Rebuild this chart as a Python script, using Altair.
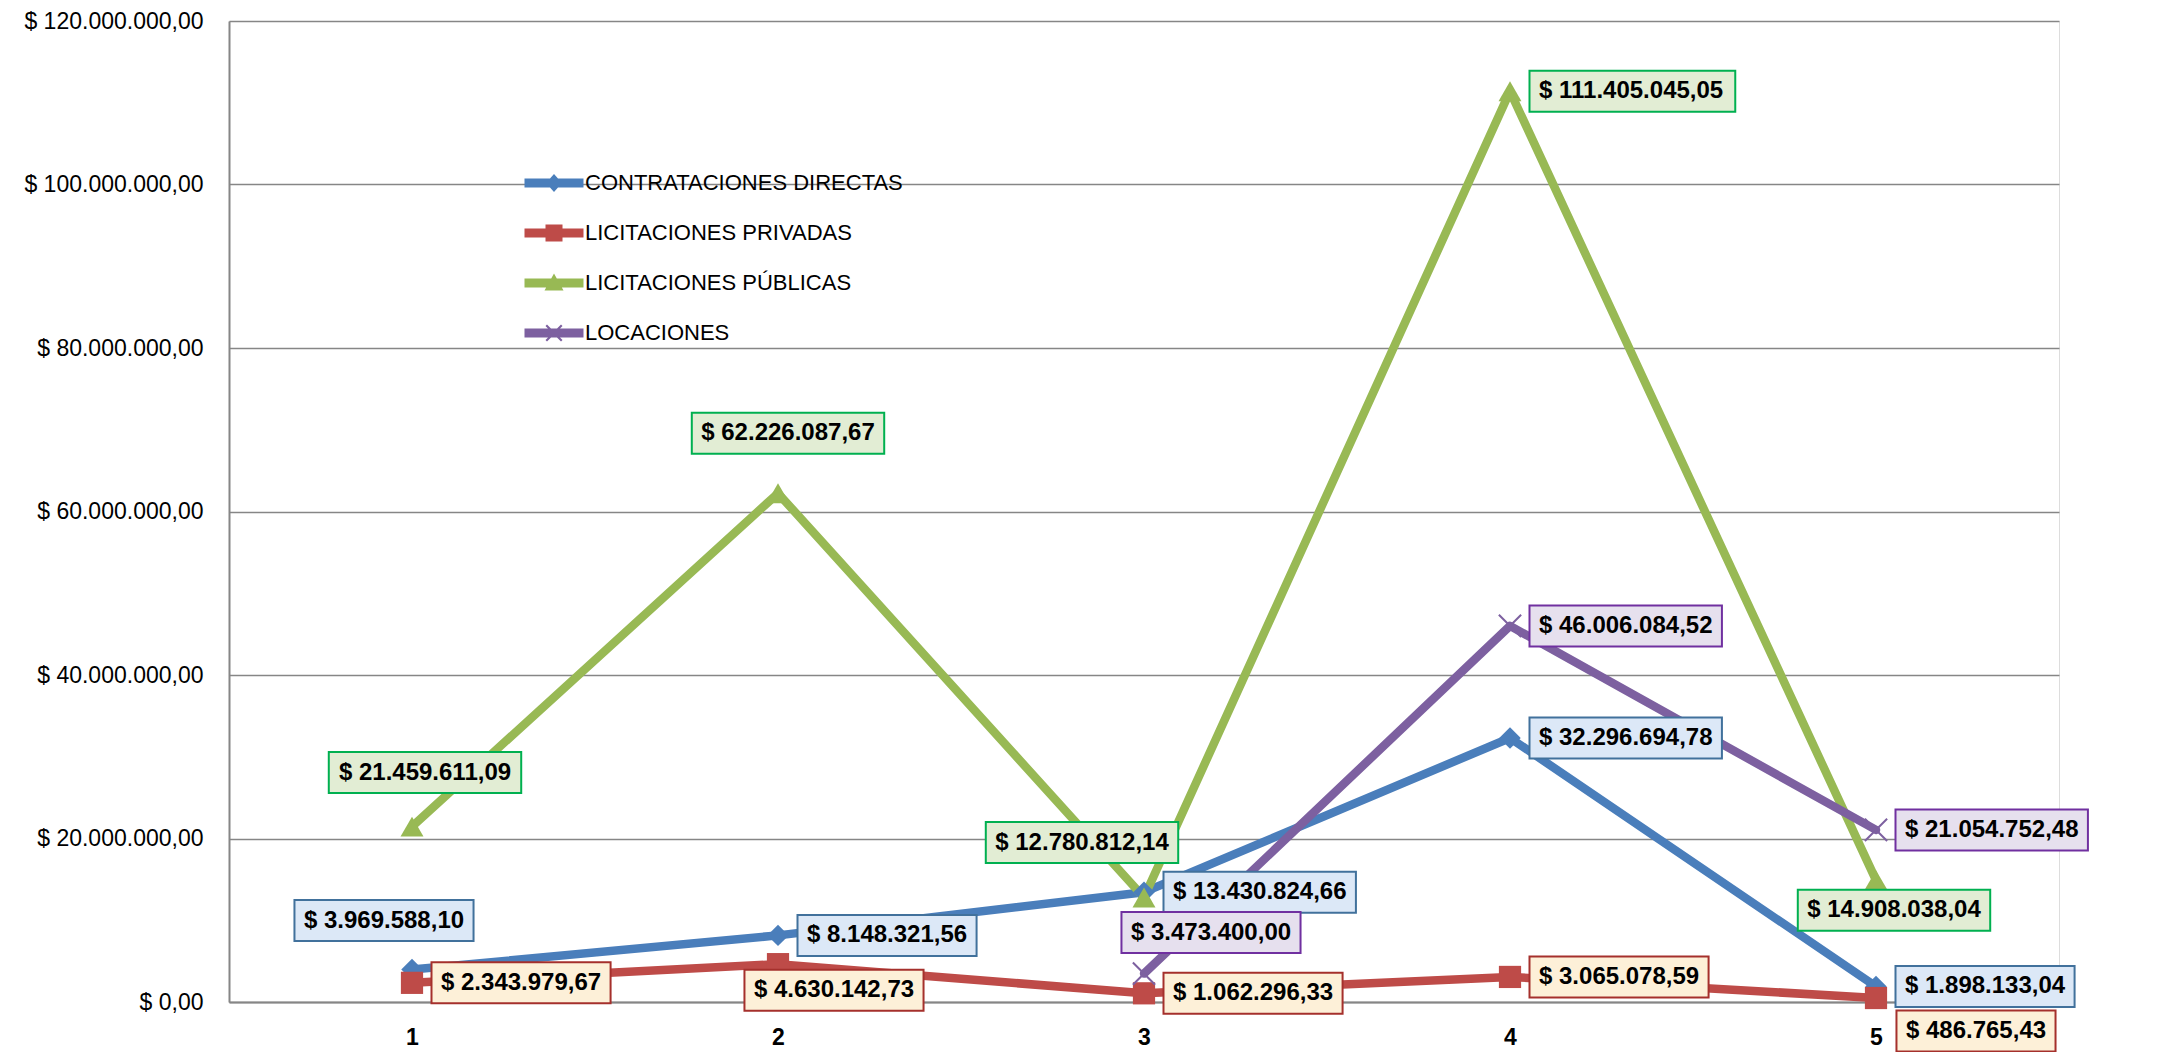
import altair as alt
import pandas as pd

# ---------------- data ----------------
categories = [1, 2, 3, 4, 5]
series_names = ["CONTRATACIONES DIRECTAS", "LICITACIONES PRIVADAS",
                "LICITACIONES PÚBLICAS", "LOCACIONES"]
contrataciones_directas = [3969588.10, 8148321.56, 13430824.66, 32296694.78, 1898133.04]
licitaciones_privadas = [2343979.67, 4630142.73, 1062296.33, 3065078.59, 486765.43]
licitaciones_publicas = [21459611.09, 62226087.67, 12780812.14, 111405045.05, 14908038.04]
locaciones = [None, None, 3473400.00, 46006084.52, 21054752.48]
y_ticks = [0, 20000000, 40000000, 60000000, 80000000, 100000000, 120000000]

series_values = [contrataciones_directas, licitaciones_privadas,
                 licitaciones_publicas, locaciones]

# ---------------- styles ----------------
line_colors = ["#4A7EBB", "#BE4B48", "#98B954", "#7D60A0"]
box_fills = ["#DCE8F7", "#FDF0D8", "#E2EDD4", "#E6E0EE"]
box_strokes = ["#41719C", "#A5302C", "#00B050", "#7030A0"]
marker_shapes = ["diamond", "square", "triangle-up",
                 "M-1,-0.88L-0.88,-1L1,0.88L0.88,1Z M-1,0.88L0.88,-1L1,-0.88L-0.88,1Z"]
marker_sizes = [460, 560, 700, 625]
legend_bar = "M-2.95,-0.45L2.95,-0.45L2.95,0.45L-2.95,0.45Z "
legend_shapes = [
    legend_bar + "M0,-0.9L0.8,0L0,0.9L-0.8,0Z",
    legend_bar + "M-0.85,-0.85L0.85,-0.85L0.85,0.85L-0.85,0.85Z",
    legend_bar + "M0,-0.95L0.95,0.75L-0.95,0.75Z",
    legend_bar + "M-0.85,-0.7L-0.7,-0.85L0.85,0.7L0.7,0.85Z M-0.85,0.7L0.7,-0.85L0.85,-0.7L-0.7,0.85Z",
]
# label placement: "r" = to the right of the marker, else (dx, dy) of the box centre
label_pos = [
    [(-28, -49), "r", "r", "r", "r"],
    ["r", (56, 26), "r", "r", (100, 33)],
    [(13, -54), (10, -60), (-62, -55), "r", (18, 30)],
    [None, None, (67, -41), "r", "r"],
]

rows = []
for s, name in enumerate(series_names):
    for i, c in enumerate(categories):
        v = series_values[s][i]
        if v is None:
            continue
        p = label_pos[s][i]
        if p == "r":
            rows.append(dict(series=name, cat=c, value=v, pos="r", cx=0, cy=0, right=1))
        else:
            rows.append(dict(series=name, cat=c, value=v, pos=f"{p[0]},{p[1]}",
                             cx=p[0], cy=p[1], right=0))
df = pd.DataFrame(rows)

FONT = "Liberation Sans"
GRID = "#868686"

x_enc = alt.X("cat:O", scale=alt.Scale(type="point", padding=0.5),
              axis=alt.Axis(labelAngle=0, labelFont=FONT, labelFontSize=23,
                            labelFontWeight="bold", labelColor="black", labelPadding=24,
                            tickSize=0, domainColor=GRID, domainWidth=2, grid=False,
                            title=None))
y_enc = alt.Y("value:Q", scale=alt.Scale(domain=[0, 120000000], nice=False, zero=True),
              axis=alt.Axis(values=y_ticks, format="$,.2f", labelFont=FONT,
                            labelFontSize=23, labelColor="black", labelPadding=26,
                            tickSize=0, domainColor=GRID, domainWidth=2, gridColor=GRID,
                            gridWidth=1.5, title=None))

color_scale = alt.Scale(domain=series_names, range=line_colors)

base = alt.Chart(df)

lines = base.mark_line(strokeWidth=8.5, strokeCap="round", strokeJoin="round").encode(
    x=x_enc, y=y_enc,
    color=alt.Color("series:N", scale=color_scale, legend=None),
)

markers = base.mark_point(filled=True, opacity=1).encode(
    x=x_enc, y=y_enc,
    color=alt.Color("series:N", scale=color_scale, legend=None),
    shape=alt.Shape("series:N", scale=alt.Scale(domain=series_names, range=marker_shapes),
                    legend=None),
    size=alt.Size("series:N", scale=alt.Scale(domain=series_names, range=marker_sizes),
                  legend=None),
)

labelled = base.transform_calculate(
    lbl="format(datum.value, '$,.2f')"
).transform_calculate(
    nn="length(replace(datum.lbl, regexp('[0-9$]', 'g'), ''))"
).transform_calculate(
    w="13.34 * (length(datum.lbl) - datum.nn) + 6.67 * datum.nn + 19"
).transform_calculate(
    L="datum.right == 1 ? 19.5 : datum.cx - datum.w / 2",
    T="datum.cy - 20.5",
).transform_calculate(
    boxpath="'M' + datum.L + ',' + datum.T + 'h' + datum.w + 'v41h' + (-datum.w) + 'Z'"
)

boxes = labelled.mark_point(filled=True, opacity=1, strokeWidth=2, size=4).encode(
    x=x_enc, y=y_enc,
    shape=alt.Shape("boxpath:N", scale=None),
    fill=alt.Fill("series:N", scale=alt.Scale(domain=series_names, range=box_fills),
                  legend=None),
    stroke=alt.Stroke("series:N", scale=alt.Scale(domain=series_names, range=box_strokes),
                      legend=None),
)

text_layers = []
for key in sorted(df["pos"].unique()):
    if key == "r":
        mk = dict(align="left", dx=29, dy=0)
    else:
        dx, dy = [float(t) for t in key.split(",")]
        mk = dict(align="center", dx=dx, dy=dy)
    text_layers.append(
        labelled.transform_filter(alt.datum.pos == key).mark_text(
            baseline="middle", font=FONT, fontSize=24, fontWeight="bold",
            color="black", **mk
        ).encode(x=x_enc, y=y_enc, text="lbl:N")
    )

leg = alt.Legend(orient="none", legendX=314, legendY=151, title=None, padding=0,
                 labelFont=FONT, labelFontSize=22, labelColor="black", labelOffset=20,
                 rowPadding=28, symbolSize=400, symbolStrokeWidth=0, symbolOpacity=1,
                 direction="vertical", labelLimit=0)
legend_layer = base.mark_point(filled=True, opacity=0).encode(
    x=x_enc, y=y_enc,
    color=alt.Color("series:N", scale=color_scale, legend=leg),
    shape=alt.Shape("series:N", scale=alt.Scale(domain=series_names, range=legend_shapes),
                    legend=leg),
)

border = alt.Chart(pd.DataFrame({"b": [0]})).mark_rule(color=GRID, strokeWidth=2).encode(
    x=alt.value(-226), y=alt.value(-40), y2=alt.value(1060)
)

chart = alt.layer(lines, markers, boxes, *text_layers, legend_layer, border).resolve_scale(
    color="independent", shape="independent", size="independent",
    fill="independent", stroke="independent"
).properties(
    width=1830, height=981,
    autosize=alt.AutoSizeParams(type="none"),
    padding={"left": 221, "top": 13, "right": 102, "bottom": 50},
).configure_view(stroke=None).configure(
    locale={"number": {"decimal": ",", "thousands": ".", "grouping": [3],
                       "currency": ["$ ", ""]}}
)

chart.save("out.html", embed_options={"renderer": "svg", "actions": False})
